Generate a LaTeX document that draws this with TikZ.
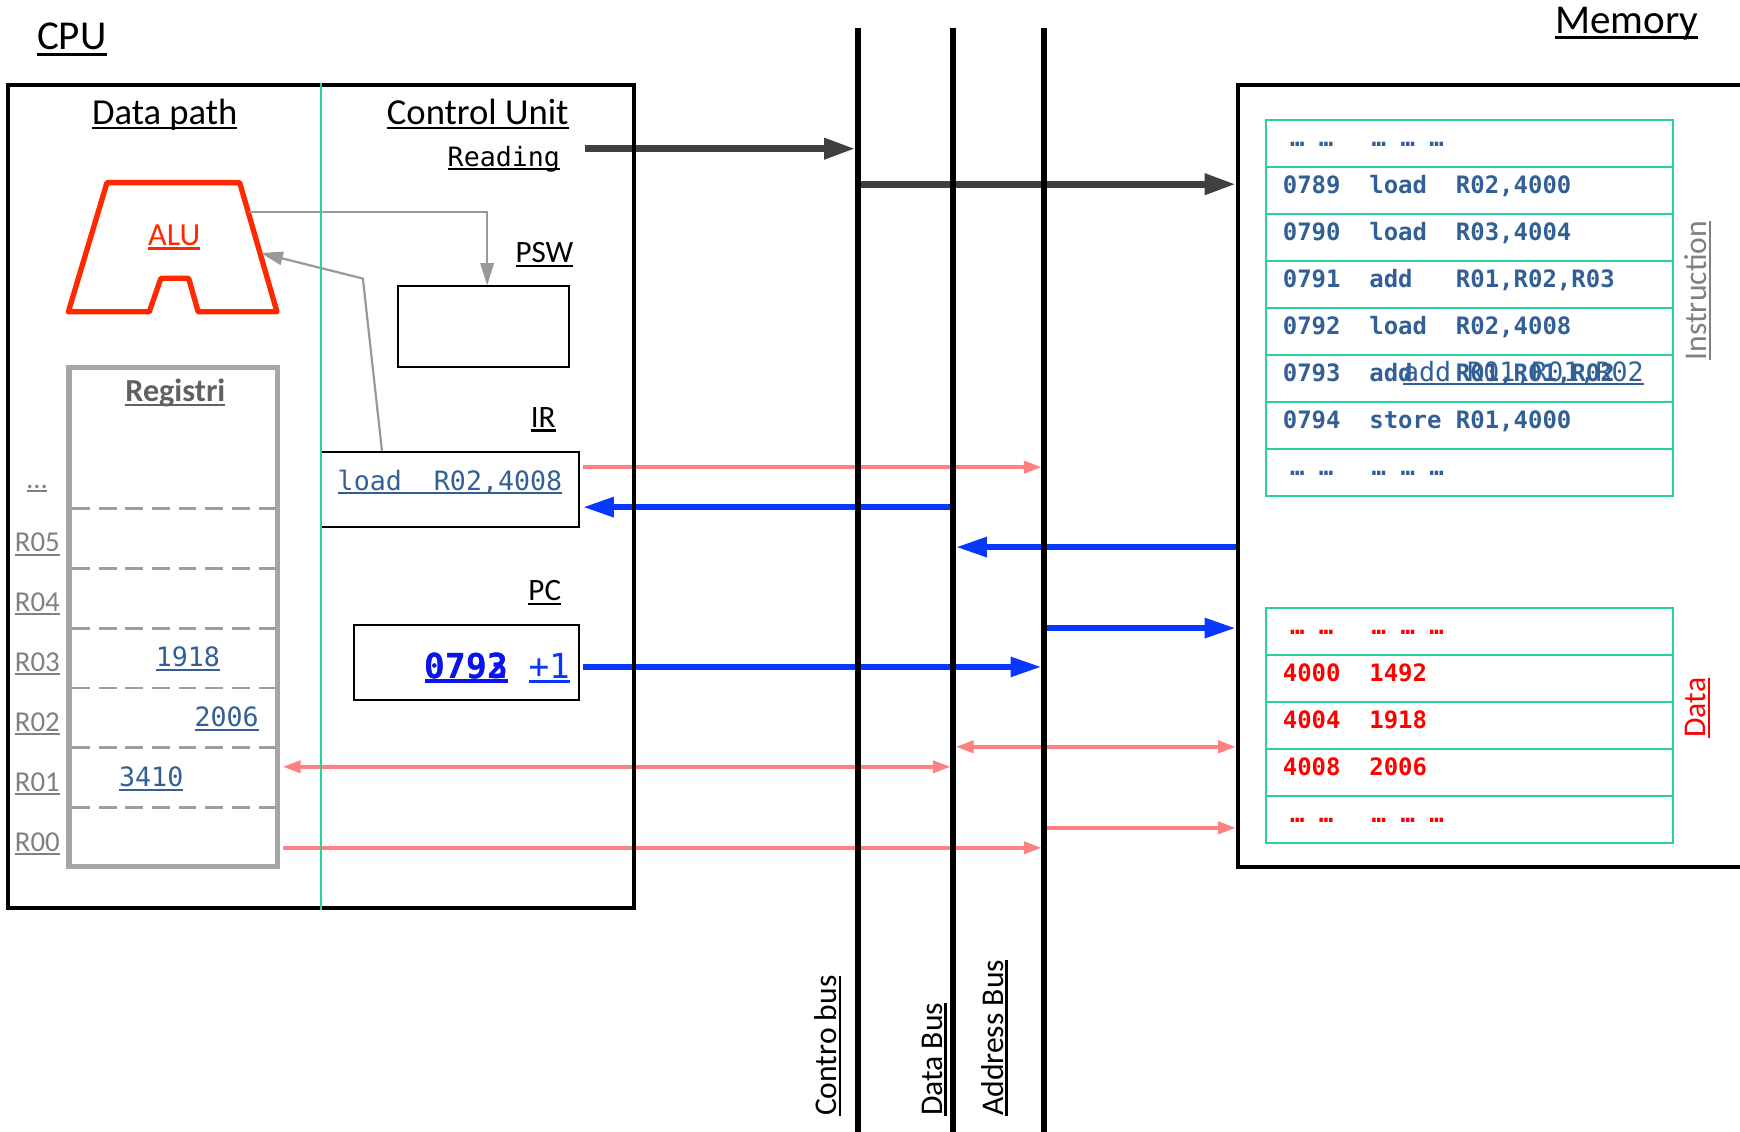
\documentclass[tikz,border=0pt]{standalone}
\usepackage{fontspec}
\setmainfont{Carlito}
\setmonofont{DejaVu Sans Mono}
\usetikzlibrary{arrows.meta,calc}

\definecolor{reqgray}{RGB}{64,64,64}
\definecolor{xferblue}{RGB}{8,56,255}
\definecolor{salmon}{RGB}{255,128,128}
\definecolor{tealline}{RGB}{40,208,160}
\definecolor{codeblue}{RGB}{50,96,150}
\definecolor{pcblue}{RGB}{10,20,235}
\definecolor{alured}{RGB}{255,40,0}
\definecolor{datared}{RGB}{255,0,0}
\definecolor{lblgray}{RGB}{128,128,128}
\definecolor{reggray}{RGB}{166,166,166}
\definecolor{arrgray}{RGB}{153,153,153}

\newcommand\setfs[1]{\fontsize{#1}{#1}\selectfont}
\newcommand\ulin[2][0.07em]{\setbox0\hbox{#2}\hbox{\rlap{\rule[-0.14em]{\wd0}{#1}}\box0}}
% one memory line: address, opcode, operands in fixed columns
\newcommand\memline[3]{\makebox[3.612em][l]{#1}\makebox[3.612em][l]{#2}#3}
\newcommand\memdots{\hspace{0.3em}…\hspace{0.602em}…\hspace{1.6em}…\hspace{0.602em}…\hspace{0.602em}…}

\begin{document}
\begin{tikzpicture}[x=0.5pt,y=-0.5pt]
\tikzset{
  lbl/.style={inner sep=0pt,font=\setfs{14}},
  code/.style={inner sep=0pt,text=codeblue,font=\ttfamily\setfs{12}},
  regname/.style={inner sep=0pt,anchor=base west,text=lblgray,font=\setfs{13}},
  box/.style={draw,line width=0.8pt,inner sep=0pt},
  irow/.style={draw=tealline,line width=0.9pt,minimum width=183.5pt,minimum height=21.17pt,
    inner xsep=7.5pt,inner ysep=0pt,text width=168.5pt,align=left,text height=6pt,text depth=3pt,
    font=\ttfamily\bfseries\setfs{10.8},text=codeblue},
  drow/.style={irow,text=datared},
  darr/.style={draw=reqgray,line width=3pt,shorten >=1.2pt,-{Triangle[length=14pt,width=9pt]}},
  barr/.style={draw=xferblue,line width=2.8pt,shorten >=1.2pt,shorten <=1.2pt,-{Triangle[length=14pt,width=8.5pt]}},
  sarr/.style={draw=salmon,line width=1.6pt,shorten >=1.2pt,shorten <=1.2pt,-{Triangle[length=8pt,width=5.5pt]}},
  sdarr/.style={sarr,{Triangle[length=8pt,width=5.5pt]}-{Triangle[length=8pt,width=5.5pt]}},
  garr/.style={draw=arrgray,line width=1pt,-{Triangle[length=10pt,width=6pt]}},
  bus/.style={line width=2.6pt},
  vlbl/.style={rotate=90,anchor=base west,inner sep=0pt,font=\setfs{14.25}}
}
\useasboundingbox (0,0) rectangle (1568,1020);

% buses and memory edge
\coordinate (ctrlbus) at (773,25);
\coordinate (databus) at (859,25);
\coordinate (addrbus) at (941,25);
\coordinate (memtop) at (1116,77);
\coordinate (membot) at (1116,781);
\coordinate (memreq) at (1116,166);
\coordinate (memdout) at (1116,493);
\coordinate (memain) at (1116,566);
\coordinate (memdio) at (1116,673);
\coordinate (memaout) at (1116,746);

% titles
\node[inner sep=0pt,anchor=base west,font=\setfs{18.5}] (cpulbl) at (33,45) {\ulin{CPU}};
\node[inner sep=0pt,anchor=base west,font=\setfs{18.5}] (memlbl) at (1401,30) {\ulin{Memory}};
\node[inner sep=0pt,anchor=base,font=\setfs{16.5}] (dplbl) at (148.5,112) {\ulin{Data path}};
\node[inner sep=0pt,anchor=base,font=\setfs{16.5}] (culbl) at (430.5,112) {\ulin{Control Unit}};
\node[inner sep=0pt,anchor=base east,font=\ttfamily\setfs{12}] (rdg) at (505,150) {\ulin{Reading}};
\coordinate (rdgout) at (527,134);

% ALU
\draw[draw=alured,line width=2.4pt,line join=round]
  (96.4,164.6) -- (216,164.6) -- (249.6,281) -- (178.6,281) -- (170,250.8)
  -- (145,250.8) -- (134.5,281) -- (61.6,281) -- cycle;
\node[lbl,anchor=base,text=alured,font=\setfs{14.5}] (alu) at (157,221) {\ulin{ALU}};
\coordinate (aluout) at (224,191);
\coordinate (aluin) at (235,228);

% registers
\node[draw=reggray,line width=2.5pt,minimum width=94pt,minimum height=225pt,inner sep=0pt] (regbox) at (156,556) {};
\node[lbl,anchor=base,text=black!62,font=\bfseries\setfs{14.5}] (regtitle) at (158,362) {\ulin{Registri}};
\foreach \y in {458,512,566,620,674,728}
  \draw[draw=black!38,line width=1.3pt,dash pattern=on 8pt off 4pt] (65,\y) -- (249,\y);
\node[regname] (rdots) at (24,440) {\ulin{…}};
\node[regname] (r05) at (13,497) {\ulin{R05}};
\node[regname] (r04) at (13,551) {\ulin{R04}};
\node[regname] (r03) at (13,605) {\ulin{R03}};
\node[regname] (r02) at (13,659) {\ulin{R02}};
\node[regname] (r01) at (13,713) {\ulin{R01}};
\node[regname] (r00) at (13,767) {\ulin{R00}};
\node[code,anchor=base west] (v03) at (140,601) {\ulin{1918}};
\node[code,anchor=base west] (v02) at (175,655) {\ulin{2006}};
\node[code,anchor=base west] (v01) at (107,709) {\ulin{3410}};

% control unit registers
\node[lbl,anchor=base east] (pswlbl) at (517,237) {\ulin{PSW}};
\node[box,minimum width=77pt,minimum height=36.5pt] (psw) at (436,294.5) {};
\node[lbl,anchor=base east] (irlbl) at (501,385) {\ulin{IR}};
\node[box,code,minimum width=116.5pt,minimum height=34pt,text height=6pt,text depth=5pt] (irbox) at (405.5,441) {\ulin{load~~R02,4008}};
\node[lbl,anchor=base east] (pclbl) at (506,541) {\ulin{PC}};
\node[box,minimum width=101.5pt,minimum height=34pt] (pcbox) at (420.5,597) {};
\node[inner sep=0pt,anchor=base east,text=pcblue,font=\ttfamily\bfseries\setfs{15.5}] (pcold) at (458,611) {\ulin[0.12em]{0792}};
\node[inner sep=0pt,anchor=base east,text=pcblue,font=\ttfamily\bfseries\setfs{15.5}] (pcnew) at (458,611) {\ulin[0.12em]{0793}};
\node[inner sep=0pt,anchor=base east,text=xferblue,font=\ttfamily\setfs{15.5}] (pcinc) at (514,611) {\ulin{+1}};

% memory: instructions
\foreach \txt [count=\i] in {{\memdots},
  {\memline{0789}{load}{R02,4000}}, {\memline{0790}{load}{R03,4004}},
  {\memline{0791}{add}{R01,R02,R03}}, {\memline{0792}{load}{R02,4008}},
  {\memline{0793}{add}{R01,R01,R02}}, {\memline{0794}{store}{R01,4000}},
  {\memdots}}
  \node[irow] (ins\i) at (1324.5,{129.17+42.33*(\i-1)}) {\txt};
\node[code,anchor=base west] (insovl) at (1264,343.5) {\ulin{add R01,R01,R02}};
\node[vlbl,text=lblgray] (inslbl) at (1538,325) {\ulin{Instruction}};

% memory: data
\foreach \txt [count=\i] in {{\memdots},
  {\memline{4000}{1492}{}}, {\memline{4004}{1918}{}}, {\memline{4008}{2006}{}},
  {\memdots}}
  \node[drow] (dat\i) at (1324.5,{568.8+42.36*(\i-1)}) {\txt};
\node[vlbl,text=datared] (datlbl) at (1537,665) {\ulin{Data}};

% internal paths
\draw[garr] (aluout) -| ([xshift=1.5pt]psw.north);
\coordinate (irbend) at (327,251);
\draw[garr] ([xshift=28pt]irbox.north west) -- (irbend) -- (aluin);

% bus transfers
\draw[darr] (rdgout) -- (rdgout -| ctrlbus);
\draw[darr] (memreq -| ctrlbus) -- (memreq);
\draw[sarr] ([yshift=10pt]irbox.east) -- ([yshift=10pt]irbox.east -| addrbus);
\draw[barr] ([yshift=-8pt]irbox.east -| databus) -- ([yshift=-8pt]irbox.east);
\draw[barr] (memdout) -- (memdout -| databus);
\draw[barr] (memain -| addrbus) -- (memain);
\draw[barr] ([yshift=-2pt]pcbox.east) -- ([yshift=-2pt]pcbox.east -| addrbus);
\draw[sdarr] (memdio -| databus) -- (memdio);
\draw[sdarr] ([yshift=-67.5pt]regbox.east) -- ([yshift=-67.5pt]regbox.east -| databus);
\draw[sarr] (memaout -| addrbus) -- (memaout);
\draw[sarr] ([yshift=-104pt]regbox.east) -- ([yshift=-104pt]regbox.east -| addrbus);

% outlines on top
\node[draw,line width=1.8pt,minimum width=282pt,minimum height=370.5pt,inner sep=0pt] (cpubox) at (289,447.5) {};
\draw[draw=tealline,line width=1pt] (cpubox.north) -- (cpubox.south);
\draw[line width=1.8pt] (1568,77) -- (memtop) -- (membot) -- (1568,781);
\draw[bus] (ctrlbus) -- ++(0,995);
\draw[bus] (databus) -- ++(0,995);
\draw[bus] (addrbus) -- ++(0,995);
\node[vlbl] (ctrlbl) at (754,1006) {\ulin{Contro bus}};
\node[vlbl] (datbl) at (849,1006) {\ulin{Data Bus}};
\node[vlbl] (adrbl) at (904,1006) {\ulin{Address Bus}};
\end{tikzpicture}
\end{document}
